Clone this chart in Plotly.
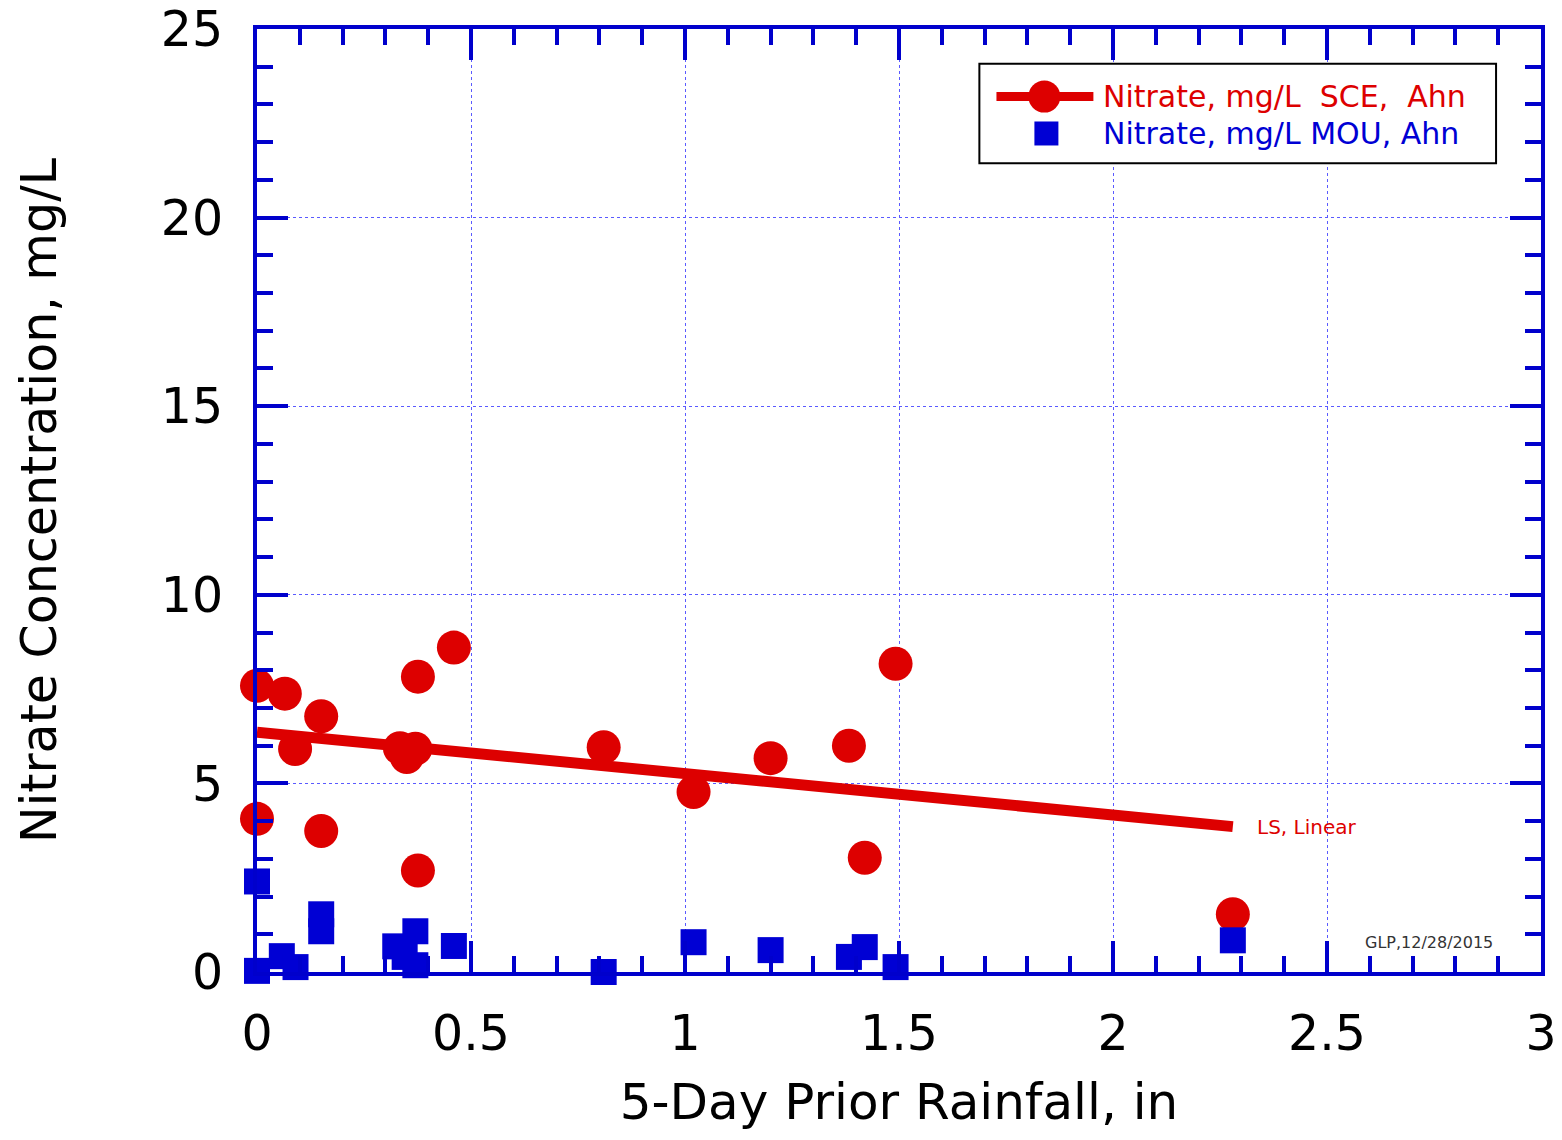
import numpy as np
import plotly.graph_objects as go

# 5-day prior rainfall (in) and nitrate concentration (mg/L)
sce_rain = [0.0, 0.065, 0.0, 0.089, 0.15, 0.15, 0.334, 0.37, 0.35, 0.376, 0.376,
            0.46, 0.81, 1.02, 1.20, 1.383, 1.42, 1.492, 2.28]
sce_nitrate = [7.59, 7.38, 4.06, 5.91, 6.78, 3.74, 5.93, 5.92, 5.70, 7.83, 2.69,
               8.60, 5.96, 4.77, 5.67, 6.00, 3.03, 8.17, 1.53]

mou_rain = [0.0, 0.0, 0.058, 0.09, 0.15, 0.15, 0.323, 0.345, 0.37, 0.37, 0.46,
            0.81, 1.02, 1.20, 1.383, 1.42, 1.492, 2.28]
mou_nitrate = [2.40, 0.03, 0.42, 0.13, 1.53, 1.08, 0.68, 0.40, 1.08, 0.18, 0.69,
               0.00, 0.79, 0.58, 0.40, 0.66, 0.13, 0.84]

sce_label = "Nitrate, mg/L  SCE,  Ahn"
mou_label = "Nitrate, mg/L MOU, Ahn"

RED = "#dd0000"
BLUE = "#0000d4"
FRAME = "#0000cc"
GRID = "rgb(90,90,255)"
FONT = "DejaVu Sans"

# least-squares linear fit for the SCE series
slope, intercept = np.polyfit(sce_rain, sce_nitrate, 1)
fit_x = np.array([min(sce_rain), max(sce_rain)])
fit_y = slope * fit_x + intercept

fig = go.Figure()
fig.add_trace(go.Scatter(x=fit_x, y=fit_y, mode="lines",
                         line=dict(color=RED, width=11),
                         showlegend=False, cliponaxis=False, hoverinfo="skip"))
fig.add_trace(go.Scatter(x=sce_rain, y=sce_nitrate, mode="markers", name=sce_label,
                         marker=dict(symbol="circle", size=34, color=RED),
                         showlegend=False, cliponaxis=False))
fig.add_trace(go.Scatter(x=mou_rain, y=mou_nitrate, mode="markers", name=mou_label,
                         marker=dict(symbol="square", size=26, color=BLUE),
                         showlegend=False, cliponaxis=False))

axis_common = dict(
    showline=True, linecolor=FRAME, linewidth=4, mirror="allticks",
    ticks="inside", tickcolor=FRAME, tickwidth=4, ticklen=31,
    showgrid=True, gridcolor=GRID, gridwidth=1, griddash="dot",
    zeroline=False, ticklabeloverflow="allow", automargin=False,
    tickfont=dict(family=FONT, size=49, color="black"),
)

fig.update_xaxes(range=[0, 3], dtick=0.5, tick0=0,
                 minor=dict(dtick=0.1, ticks="inside", ticklen=16, tickwidth=4,
                            tickcolor=FRAME, showgrid=False),
                 ticklabelstandoff=15,
                 title=dict(text="5-Day Prior Rainfall, in", standoff=24,
                            font=dict(family=FONT, size=50, color="black")),
                 **axis_common)
fig.update_yaxes(range=[0, 25], dtick=5, tick0=0,
                 minor=dict(dtick=1, ticks="inside", ticklen=16, tickwidth=4,
                            tickcolor=FRAME, showgrid=False),
                 ticklabelstandoff=20,
                 title=dict(text="Nitrate Concentration, mg/L", standoff=90,
                            font=dict(family=FONT, size=49, color="black")),
                 **axis_common)

# legend box drawn in paper space
shapes = [
    dict(type="rect", xref="paper", yref="paper", x0=0.5626, x1=0.965, y0=0.8576, y1=0.9631,
         line=dict(color="black", width=2), fillcolor="white", layer="above"),
    dict(type="line", xref="paper", yref="paper", x0=0.5759, x1=0.6514, y0=0.9283, y1=0.9283,
         line=dict(color=RED, width=9), layer="above"),
    dict(type="circle", xref="paper", yref="paper", xsizemode="pixel", ysizemode="pixel",
         xanchor=0.6132, yanchor=0.9283, x0=-16, x1=16, y0=-16, y1=16,
         fillcolor=RED, line=dict(width=0), layer="above"),
    dict(type="rect", xref="paper", yref="paper", xsizemode="pixel", ysizemode="pixel",
         xanchor=0.6148, yanchor=0.8892, x0=-12, x1=12, y0=-12, y1=12,
         fillcolor=BLUE, line=dict(width=0), layer="above"),
]

annotations = [
    dict(xref="paper", yref="paper", x=0.6576, y=0.9283, xanchor="left", yanchor="middle",
         text=sce_label, showarrow=False,
         font=dict(family=FONT, size=30, color=RED)),
    dict(xref="paper", yref="paper", x=0.6576, y=0.8892, xanchor="left", yanchor="middle",
         text=mou_label, showarrow=False,
         font=dict(family=FONT, size=30, color=BLUE)),
    dict(xref="x", yref="y", x=float(fit_x[-1]), y=float(fit_y[-1]), xshift=22,
         xanchor="left", yanchor="middle", text="LS, Linear", showarrow=False,
         font=dict(family=FONT, size=20, color=RED)),
    dict(xref="paper", yref="paper", x=0.8615, y=0.0316, xanchor="left", yanchor="middle",
         text="GLP,12/28/2015", showarrow=False,
         font=dict(family=FONT, size=16, color="#333333")),
]

fig.update_layout(
    width=1562, height=1140,
    margin=dict(l=257, r=21, t=29, b=168),
    paper_bgcolor="white", plot_bgcolor="white",
    showlegend=False,
    shapes=shapes, annotations=annotations,
)

fig.write_html("out.html")
